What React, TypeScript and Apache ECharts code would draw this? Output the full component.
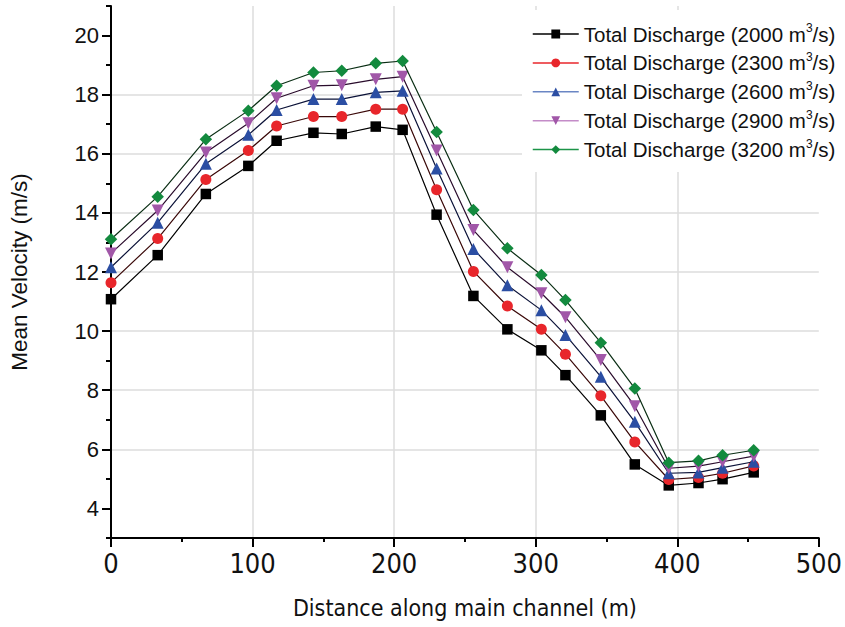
import React, { useEffect, useRef } from "react";
import * as echarts from "echarts";

const distance = [0, 33, 67, 97, 117, 143, 163, 187, 206, 230, 256, 280, 304, 321, 346, 370, 394, 415, 432, 454];
const q2000 = [11.08, 12.57, 14.64, 15.59, 16.44, 16.71, 16.67, 16.92, 16.81, 13.94, 11.19, 10.06, 9.35, 8.51, 7.15, 5.49, 4.78, 4.86, 4.99, 5.22];
const q2300 = [11.64, 13.13, 15.13, 16.11, 16.94, 17.26, 17.26, 17.51, 17.51, 14.78, 12.02, 10.85, 10.06, 9.22, 7.81, 6.25, 4.98, 5.05, 5.19, 5.44];
const q2600 = [12.16, 13.67, 15.66, 16.64, 17.48, 17.85, 17.85, 18.08, 18.13, 15.5, 12.78, 11.55, 10.71, 9.87, 8.46, 6.93, 5.19, 5.22, 5.38, 5.58];
const q2900 = [12.63, 14.08, 16.04, 17.03, 17.88, 18.3, 18.32, 18.52, 18.61, 16.11, 13.42, 12.16, 11.28, 10.47, 9.02, 7.46, 5.36, 5.43, 5.58, 5.77];
const q3200 = [13.11, 14.55, 16.49, 17.46, 18.3, 18.75, 18.81, 19.06, 19.14, 16.74, 14.1, 12.8, 11.9, 11.05, 9.61, 8.06, 5.55, 5.61, 5.8, 5.97];

const seriesNames = [
  "Total Discharge (2000 m3/s)",
  "Total Discharge (2300 m3/s)",
  "Total Discharge (2600 m3/s)",
  "Total Discharge (2900 m3/s)",
  "Total Discharge (3200 m3/s)",
];
const yTicks = [4, 6, 8, 10, 12, 14, 16, 18, 20];
const yMinorTicks = [3, 5, 7, 9, 11, 13, 15, 17, 19, 21];

export default function App() {
  const ref = useRef<HTMLDivElement>(null);
  useEffect(() => {
    if (!ref.current) return;
    const chart = echarts.init(ref.current, null, { renderer: "svg" });
    const values = [q2000, q2300, q2600, q2900, q3200];
    const markerColors = ["#000000", "#e8262b", "#2b4ea3", "#a157a8", "#138a3e"];
    const lineColors = ["#000000", "#3a0808", "#0b1238", "#2a0c2c", "#0a2e14"];
    const legendLineColors = ["#000000", "#e8262b", "#6a86c4", "#c48cc8", "#1c9448"];
    const symbols = ["rect", "circle", "triangle", "triangle", "diamond"];
    const sizes = [10.5, 11, 12, 12, 12.5];
    const rotates = [0, 0, 0, 180, 0];
    const axisFont = "'Liberation Sans Narrow', 'DejaVu Sans Condensed', sans-serif";
    const arial = "'Liberation Sans', Arial, sans-serif";
    chart.setOption({
      animation: false,
      backgroundColor: "#ffffff",
      grid: { left: 111, right: 25, top: 6, bottom: 89, containLabel: false },
      legend: {
        orient: "vertical",
        left: 522,
        top: 10,
        backgroundColor: "#ffffff",
        padding: [12, 4, 12, 10],
        itemWidth: 46,
        itemHeight: 11,
        itemGap: 6.4,
        data: seriesNames.map((n, i) => ({
          name: n,
          itemStyle: { color: markerColors[i] },
          lineStyle: { color: legendLineColors[i], width: 1.5 },
        })),
        formatter: (name: string) => name.replace("m3/s", "m{sup|3}/s"),
        textStyle: {
          fontFamily: arial,
          fontSize: 20.5,
          color: "#111",
          rich: {
            sup: { fontSize: 12, padding: [0, 0, 12, 0], fontFamily: arial, color: "#111" },
          },
        },
      },
      xAxis: {
        type: "value",
        min: 0,
        max: 500,
        interval: 100,
        name: "Distance along main channel (m)",
        nameLocation: "middle",
        nameGap: 58,
        nameTextStyle: { fontFamily: axisFont, fontSize: 23, color: "#111" },
        axisLine: { show: true, onZero: false, lineStyle: { color: "#000", width: 2 } },
        axisTick: { show: true, length: 9, lineStyle: { color: "#000", width: 2 } },
        minorTick: { show: true, splitNumber: 2, length: 4, lineStyle: { color: "#000", width: 2 } },
        axisLabel: { fontFamily: axisFont, fontSize: 27, color: "#111", margin: 12 },
        splitLine: { show: true, showMinLine: false, showMaxLine: false, lineStyle: { color: "#dddddd", width: 1.5 } },
      },
      yAxis: [
        {
          type: "value",
          min: 3,
          max: 21,
          name: "Mean Velocity (m/s)",
          nameLocation: "middle",
          nameGap: 80,
          nameRotate: 90,
          nameTextStyle: { fontFamily: arial, fontSize: 22.5, color: "#111" },
          axisLine: { show: true, onZero: false, lineStyle: { color: "#000", width: 2 } },
          axisTick: { show: true, length: 9, customValues: yTicks, lineStyle: { color: "#000", width: 2 } },
          axisLabel: { customValues: yTicks, fontFamily: arial, fontSize: 22, color: "#111", margin: 12 },
          splitLine: { show: true, showMinLine: false, showMaxLine: false, lineStyle: { color: "#dddddd", width: 1.5 } },
        },
        {
          type: "value",
          min: 3,
          max: 21,
          position: "left",
          axisLine: { show: false },
          axisTick: { show: true, length: 5, customValues: yMinorTicks, lineStyle: { color: "#000", width: 2 } },
          axisLabel: { show: false },
          splitLine: { show: false },
        },
      ],
      series: values.map((v, i) => ({
        name: seriesNames[i],
        type: "line",
        yAxisIndex: 0,
        data: distance.map((d, j) => [d, v[j]]),
        symbol: symbols[i],
        symbolSize: sizes[i],
        symbolRotate: rotates[i],
        showAllSymbol: true,
        itemStyle: { color: markerColors[i] },
        lineStyle: { color: lineColors[i], width: 1.2 },
        z: 2 + i,
      })),
    });
    return () => chart.dispose();
  }, []);
  return <div ref={ref} style={{ width: 845, height: 627, position: "absolute", left: 0, top: 0 }} />;
}
